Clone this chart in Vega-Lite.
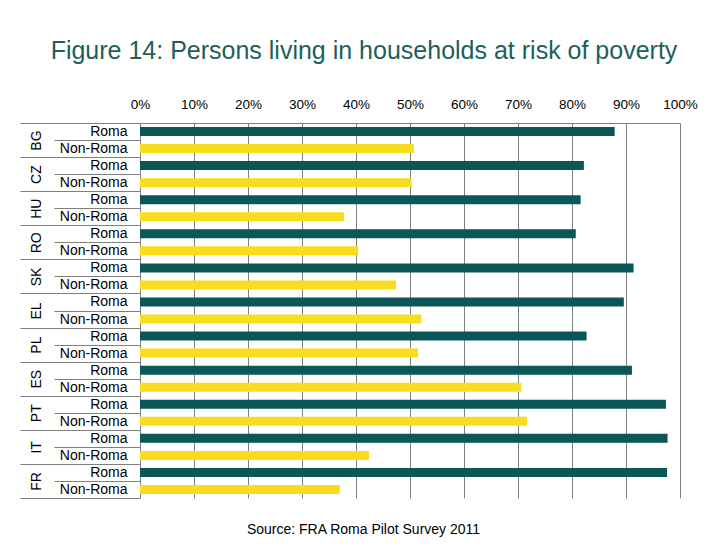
{
  "$schema": "https://vega.github.io/schema/vega-lite/v6.json",
  "autosize": "none",
  "width": 540,
  "height": 375,
  "padding": {"left": 140, "top": 123, "right": 48, "bottom": 48},
  "background": "white",
  "config": {
    "font": "Liberation Sans",
    "view": {"stroke": null}
  },
  "title": {
    "text": "Figure 14: Persons living in households at risk of poverty",
    "fontSize": 25,
    "fontWeight": "normal",
    "font": "Liberation Sans",
    "color": "#1d5f5c",
    "anchor": "middle",
    "dx": -46,
    "offset": 33
  },
  "data": {
    "values": [
      {"key": "BG|Roma", "country": "BG", "group": "Roma", "value": 0.879},
      {"key": "BG|Non-Roma", "country": "BG", "group": "Non-Roma", "value": 0.507},
      {"key": "CZ|Roma", "country": "CZ", "group": "Roma", "value": 0.822},
      {"key": "CZ|Non-Roma", "country": "CZ", "group": "Non-Roma", "value": 0.503},
      {"key": "HU|Roma", "country": "HU", "group": "Roma", "value": 0.816},
      {"key": "HU|Non-Roma", "country": "HU", "group": "Non-Roma", "value": 0.378},
      {"key": "RO|Roma", "country": "RO", "group": "Roma", "value": 0.807},
      {"key": "RO|Non-Roma", "country": "RO", "group": "Non-Roma", "value": 0.404},
      {"key": "SK|Roma", "country": "SK", "group": "Roma", "value": 0.914},
      {"key": "SK|Non-Roma", "country": "SK", "group": "Non-Roma", "value": 0.474},
      {"key": "EL|Roma", "country": "EL", "group": "Roma", "value": 0.896},
      {"key": "EL|Non-Roma", "country": "EL", "group": "Non-Roma", "value": 0.521},
      {"key": "PL|Roma", "country": "PL", "group": "Roma", "value": 0.827},
      {"key": "PL|Non-Roma", "country": "PL", "group": "Non-Roma", "value": 0.515},
      {"key": "ES|Roma", "country": "ES", "group": "Roma", "value": 0.911},
      {"key": "ES|Non-Roma", "country": "ES", "group": "Non-Roma", "value": 0.706},
      {"key": "PT|Roma", "country": "PT", "group": "Roma", "value": 0.974},
      {"key": "PT|Non-Roma", "country": "PT", "group": "Non-Roma", "value": 0.717},
      {"key": "IT|Roma", "country": "IT", "group": "Roma", "value": 0.977},
      {"key": "IT|Non-Roma", "country": "IT", "group": "Non-Roma", "value": 0.424},
      {"key": "FR|Roma", "country": "FR", "group": "Roma", "value": 0.976},
      {"key": "FR|Non-Roma", "country": "FR", "group": "Non-Roma", "value": 0.370}
    ]
  },
  "layer": [
    {
      "mark": {"type": "bar", "size": 9},
      "encoding": {
        "y": {
          "field": "key",
          "type": "nominal",
          "sort": null,
          "scale": {"paddingInner": 0, "paddingOuter": 0},
          "axis": {
            "orient": "left",
            "title": null,
            "domain": false,
            "tickBand": "extent",
            "tickSize": 86,
            "tickColor": "#808080",
            "tickWidth": 1,
            "labelExpr": "split(datum.value, '|')[1]",
            "labelFontSize": 14,
            "labelColor": "#000000",
            "labelPadding": -73,
            "labelAlign": "right",
            "labelBaseline": "middle"
          }
        },
        "x": {
          "field": "value",
          "type": "quantitative",
          "scale": {"domain": [0, 1], "nice": false},
          "axis": {
            "orient": "top",
            "title": null,
            "format": ".0%",
            "values": [0, 0.1, 0.2, 0.3, 0.4, 0.5, 0.6, 0.7, 0.8, 0.9, 1],
            "grid": true,
            "gridColor": "#808080",
            "gridWidth": 1,
            "gridOpacity": 1,
            "ticks": false,
            "domain": true,
            "domainColor": "#808080",
            "labelFontSize": 13.5,
            "labelColor": "#000000",
            "labelPadding": 15,
            "labelBaseline": "alphabetic",
            "labelFlush": false
          }
        },
        "color": {
          "field": "group",
          "type": "nominal",
          "scale": {"domain": ["Roma", "Non-Roma"], "range": ["#0b5657", "#f8dc1e"]},
          "legend": null
        }
      }
    },
    {
      "mark": {"type": "bar", "opacity": 0},
      "encoding": {
        "y": {
          "field": "country",
          "type": "nominal",
          "sort": null,
          "scale": {"paddingInner": 0, "paddingOuter": 0},
          "axis": {
            "orient": "left",
            "title": null,
            "domain": false,
            "tickBand": "extent",
            "tickSize": 120,
            "tickColor": "#808080",
            "tickWidth": 1,
            "labelFontSize": 14,
            "labelColor": "#000000",
            "labelAngle": 270,
            "labelAlign": "center",
            "labelBaseline": "middle",
            "labelPadding": -16
          }
        },
        "x": {
          "field": "value",
          "type": "quantitative",
          "scale": {"domain": [0, 1], "nice": false},
          "axis": {
            "orient": "bottom",
            "labels": false,
            "ticks": false,
            "domain": false,
            "grid": false,
            "title": "Source: FRA Roma Pilot Survey 2011",
            "titleFontSize": 14,
            "titleFontWeight": "normal",
            "titleColor": "#000000",
            "titleX": 223,
            "titleY": 35,
            "titleAlign": "center",
            "titleBaseline": "alphabetic"
          }
        }
      }
    }
  ],
  "resolve": {"scale": {"x": "independent", "y": "independent"}}
}
